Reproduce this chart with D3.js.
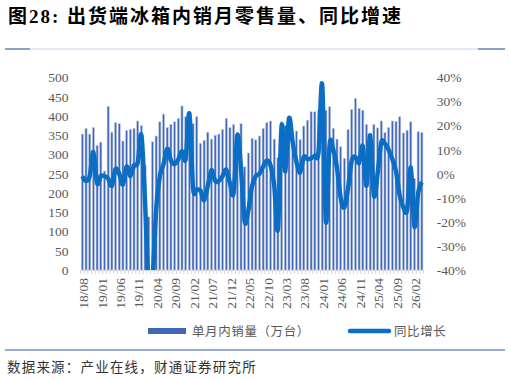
<!DOCTYPE html>
<meta charset="utf-8">
<style>
body {
  margin: 0;
  background: #fff;
}
.title {
  font-family: "Liberation Serif", "Noto Sans CJK SC";
  font-weight: bold;
  font-size: 19px;
  letter-spacing: 2px;
  fill: #000;
}
.axis text {
  font-family: "Liberation Serif";
  font-size: 13.5px;
  fill: #595959;
}
.axis path, .axis line {
  display: none;
}
.legend text {
  font-family: "Noto Sans CJK SC";
  font-size: 12.5px;
  letter-spacing: 0.6px;
  fill: #595959;
}
.source {
  font-family: "Noto Sans CJK SC";
  font-size: 13.5px;
  letter-spacing: 1.2px;
  fill: #333;
}
</style>
<body>
<script src="https://cdn.jsdelivr.net/npm/d3@7"></script>
<script>

var width = 510,
    height = 380;

// months 2018/08 .. 2026/04
var months = d3.range(93).map(function(i) {
  var y = 2018 + Math.floor((7 + i) / 12),
      m = (7 + i) % 12 + 1;
  return String(y).slice(2) + "/" + (m < 10 ? "0" + m : m);
});

// 单月内销量（万台）
var sales = [
  353, 368, 353, 370, 324, 332, 257, 425, 358, 383, 380, 335,
  363, 365, 368, 387, 375, 272, 138, 333, 348, 385, 405, 370,
  378, 385, 394, 426, 398, 412, 380, 398, 329, 337, 358, 340,
  350, 353, 365, 394, 370, 378, 358, 380, 268, 304, 342, 338,
  348, 368, 383, 387, 340, 292, 385, 375, 376, 357, 361, 339,
  374, 389, 411, 411, 415, 420, 415, 424, 368, 340, 320, 290,
  365, 417, 446, 420, 415, 378, 355, 378, 369, 387, 357, 370,
  387, 386, 398, 356, 363, 385, 238, 359, 357
];

// 同比增长 (%)
var growth = [
  -1, -3, -1, 9, -4, -1, -1, -2, -5, 2, 0, -4.5,
  3, -1, 3.5, 4.5, 16, -12, -48, -44, -15, -1, 4, 10.5,
  5.5, 4, 6, 9.5, 6, 25, -6, -6.5, -7, -11, -5, 1.5,
  -3, -3, -1, 1.7, -4, -8, 16, 2, -20, -15, -5, -1,
  0, 3, 5.5, 3.5, -5, -23, 20, 1, 23, 13, 5, 0.5,
  7, 6, 6.5, 7.5, 9, 37, -20, 12, 10, 2.5, -10, -14,
  -6, 5.5, 7, 4.5, 11.5, -5, 16, -9, 0, 13, 12.5, 10,
  6, 1, -9, -14, -15, 2.5, -22, -8, -3.5
];

var leftTicks = d3.range(0, 501, 50);
var rightTicks = d3.range(-40, 41, 10);
var labelMonths = months.filter(function(d, i) { return i % 5 === 0; });

var plot = {left: 80.5, right: 423.7, top: 77.5, bottom: 270};

var svg = d3.select("body").append("svg")
    .attr("width", width)
    .attr("height", height);

// title
svg.append("text")
    .attr("class", "title")
    .attr("x", 8)
    .attr("y", 23)
    .text("图28: 出货端冰箱内销月零售量、同比增速");

svg.append("line")
    .attr("x1", 5).attr("x2", 505)
    .attr("y1", 49).attr("y2", 49)
    .attr("stroke", "#c9d4e6")
    .attr("stroke-width", 1);
svg.append("line")
    .attr("x1", 5).attr("x2", 30)
    .attr("y1", 49).attr("y2", 49)
    .attr("stroke", "#2e5d9f")
    .attr("stroke-width", 1);
svg.append("line")
    .attr("x1", 478).attr("x2", 505)
    .attr("y1", 49).attr("y2", 49)
    .attr("stroke", "#2e5d9f")
    .attr("stroke-width", 1);

var x = d3.scaleBand()
    .domain(months)
    .range([plot.left, plot.right])
    .paddingInner(0.42)
    .paddingOuter(0.21);

var y = d3.scaleLinear()
    .domain([0, 500])
    .range([plot.bottom, plot.top]);

var y2 = d3.scaleLinear()
    .domain([-40, 40])
    .range([plot.bottom, plot.top]);

// category tick marks
svg.append("g")
  .selectAll("line")
    .data(months.concat(["end"]))
  .enter().append("line")
    .attr("x1", function(d, i) { return plot.left + i * x.step(); })
    .attr("x2", function(d, i) { return plot.left + i * x.step(); })
    .attr("y1", plot.bottom)
    .attr("y2", plot.bottom + 4)
    .attr("stroke", "#d6d6d6")
    .attr("stroke-width", 1);

svg.append("line")
    .attr("x1", plot.left).attr("x2", plot.right)
    .attr("y1", plot.bottom + 0.5).attr("y2", plot.bottom + 0.5)
    .attr("stroke", "#d9d9d9");

// bars
svg.append("g")
  .selectAll("rect")
    .data(sales)
  .enter().append("rect")
    .attr("x", function(d, i) { return x(months[i]); })
    .attr("width", x.bandwidth())
    .attr("y", function(d) { return y(d); })
    .attr("height", function(d) { return y(0) - y(d); })
    .attr("fill", "#3f67b6")
    .attr("stroke", "#c3cee6")
    .attr("stroke-width", 0.6);

// line
svg.append("clipPath")
    .attr("id", "clip")
  .append("rect")
    .attr("x", plot.left - 5)
    .attr("y", plot.top - 5)
    .attr("width", plot.right - plot.left + 10)
    .attr("height", plot.bottom - plot.top + 5);

var line = d3.line()
    .x(function(d, i) { return x(months[i]) + x.bandwidth() / 2; })
    .y(function(d) { return y2(d); })
    .curve(d3.curveCardinal.tension(0));

svg.append("path")
    .datum(growth)
    .attr("clip-path", "url(#clip)")
    .attr("d", line)
    .attr("fill", "none")
    .attr("stroke", "#0b6ec5")
    .attr("stroke-width", 4.5)
    .attr("stroke-linejoin", "round");

// axes
svg.append("g")
    .attr("class", "axis")
    .attr("transform", "translate(" + (plot.left - 10) + ",0)")
    .call(d3.axisLeft(y).tickValues(leftTicks).tickSize(0).tickPadding(2));

svg.append("g")
    .attr("class", "axis")
    .attr("transform", "translate(" + (plot.right + 11) + ",0)")
    .call(d3.axisRight(y2).tickValues(rightTicks).tickSize(0).tickPadding(2)
      .tickFormat(function(d) { return d + "%"; }));

svg.append("g")
    .attr("class", "axis")
    .attr("transform", "translate(1," + plot.bottom + ")")
    .call(d3.axisBottom(x).tickValues(labelMonths).tickSize(0))
  .selectAll("text")
    .attr("transform", "rotate(-90)")
    .attr("x", -8)
    .attr("y", 0)
    .attr("dy", "0.35em")
    .style("text-anchor", "end");

// legend
var legend = svg.append("g").attr("class", "legend");

legend.append("rect")
    .attr("x", 148).attr("y", 328)
    .attr("width", 38).attr("height", 6)
    .attr("fill", "#3f67b6");
legend.append("text")
    .attr("x", 192).attr("y", 336)
    .text("单月内销量（万台）");

legend.append("line")
    .attr("x1", 350).attr("x2", 389)
    .attr("y1", 331).attr("y2", 331)
    .attr("stroke", "#0b6ec5")
    .attr("stroke-width", 4.5)
    .attr("stroke-linecap", "round");
legend.append("text")
    .attr("x", 394).attr("y", 336)
    .text("同比增长");

svg.append("line")
    .attr("x1", 5).attr("x2", 505)
    .attr("y1", 350).attr("y2", 350)
    .attr("stroke", "#2e5d9f")
    .attr("stroke-width", 1);

svg.append("text")
    .attr("class", "source")
    .attr("x", 7)
    .attr("y", 372)
    .text("数据来源：产业在线，财通证券研究所");

</script>
